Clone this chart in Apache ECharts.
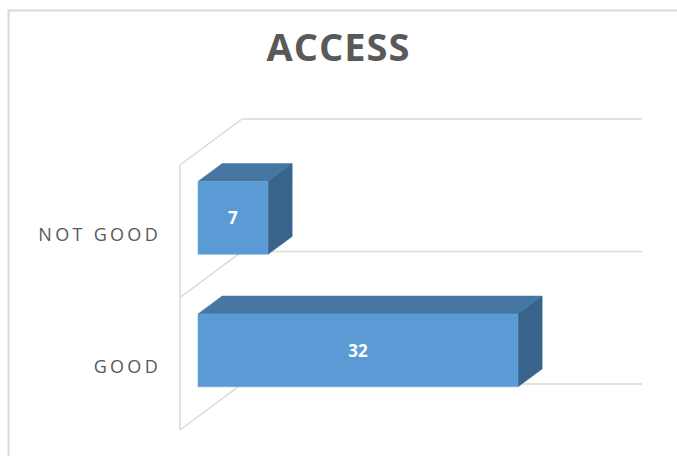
<!DOCTYPE html>
<html>
<head>
<meta charset="utf-8">
<style>
  html, body { margin: 0; padding: 0; background: #ffffff; }
  #chart { width: 677px; height: 456px; }
</style>
<script src="https://cdn.jsdelivr.net/npm/echarts@6/dist/echarts.min.js"></script>
</head>
<body>
<div id="chart"></div>
<script>
// Chart data
const titleText = 'ACCESS';
const categories = ['GOOD', 'NOT GOOD'];
const values = [32, 7];
const valueMin = 0;
const valueMax = 40;

// Oblique 3D projection: offset of the back wall relative to the front plane
const WALL_DX = 62, WALL_DY = -46;
// Depth span of the bars inside the box (fractions of the wall depth)
const BAR_FRONT = 0.29, BAR_BACK = 0.68;
const BAR_BAND = 0.55;

const GRID_LINE = '#d9d9d9';
const FACE_FRONT = '#5b9bd5';
const FACE_TOP = '#4677a3';
const FACE_SIDE = '#38648c';

const chart = echarts.init(document.getElementById('chart'), null, { renderer: 'svg' });

function renderWalls(params, api) {
  const cs = params.coordSys;
  const n = categories.length;
  const children = [];
  const style = { stroke: GRID_LINE, lineWidth: 1.5, fill: null };
  // front-left edge of the side wall
  children.push({ type: 'line', shape: { x1: cs.x, y1: cs.y, x2: cs.x, y2: cs.y + cs.height }, style });
  for (let i = 0; i <= n; i++) {
    const y = cs.y + cs.height * i / n;
    children.push({ type: 'line', shape: { x1: cs.x, y1: y, x2: cs.x + WALL_DX, y2: y + WALL_DY }, style });
    children.push({ type: 'line', shape: { x1: cs.x + WALL_DX, y1: y + WALL_DY, x2: cs.x + WALL_DX + cs.width, y2: y + WALL_DY }, style });
  }
  return { type: 'group', children };
}

function renderBar(params, api) {
  const v = api.value(0);
  const cat = api.value(1);
  const p0 = api.coord([valueMin, cat]);
  const p1 = api.coord([v, cat]);
  const band = api.size([0, 1])[1];
  const h = band * BAR_BAND;
  const fx = WALL_DX * BAR_FRONT, fy = WALL_DY * BAR_FRONT;
  const dx = WALL_DX * (BAR_BACK - BAR_FRONT), dy = WALL_DY * (BAR_BACK - BAR_FRONT);
  const x0 = p0[0] + fx, x1 = p1[0] + fx;
  const yT = p0[1] - h / 2 + fy, yB = yT + h;
  return {
    type: 'group',
    children: [
      { type: 'polygon', shape: { points: [[x0, yT], [x1, yT], [x1 + dx, yT + dy], [x0 + dx, yT + dy]] },
        style: { fill: FACE_TOP, stroke: FACE_TOP, lineWidth: 0.5 } },
      { type: 'polygon', shape: { points: [[x1, yT], [x1 + dx, yT + dy], [x1 + dx, yB + dy], [x1, yB]] },
        style: { fill: FACE_SIDE, stroke: FACE_SIDE, lineWidth: 0.5 } },
      { type: 'rect', shape: { x: x0, y: yT, width: x1 - x0, height: h },
        style: { fill: FACE_FRONT, stroke: '#6aa5da', lineWidth: 0.5 } },
      { type: 'text', x: (x0 + x1) / 2, y: (yT + yB) / 2,
        style: { text: String(v), fill: '#ffffff', font: 'bold 17px "Open Sans"', align: 'center', verticalAlign: 'middle' } }
    ]
  };
}

chart.setOption({
  animation: false,
  backgroundColor: '#ffffff',
  title: {
    text: titleText,
    left: 'center',
    top: 22,
    textStyle: { fontFamily: 'Open Sans', fontWeight: 'bold', fontSize: 38, color: '#595959' }
  },
  graphic: [{
    type: 'rect', left: 6, top: 8, z: -10,
    shape: { width: 700, height: 500 },
    style: { fill: null, stroke: GRID_LINE, lineWidth: 2 }
  }],
  grid: { left: 180, top: 165, width: 400, height: 265 },
  xAxis: {
    type: 'value', min: valueMin, max: valueMax,
    show: false
  },
  yAxis: {
    type: 'category', data: categories,
    axisLine: { show: false }, axisTick: { show: false }, splitLine: { show: false },
    axisLabel: { margin: 19, fontFamily: 'Open Sans', fontSize: 18, color: '#595959',
      verticalAlign: 'middle' }
  },
  series: [
    { type: 'custom', renderItem: renderWalls, data: [0], silent: true, z: 1,
      coordinateSystem: 'cartesian2d', encode: { x: [], y: [] } },
    { type: 'custom', renderItem: renderBar, z: 2,
      data: categories.map((c, i) => [values[i], i]), encode: { x: 0, y: 1 } }
  ]
});

// widen the category labels' letter spacing and drop them slightly
document.querySelectorAll('#chart svg text').forEach(t => {
  if (categories.includes(t.textContent)) {
    t.setAttribute('letter-spacing', '3.3px');
    t.setAttribute('dy', t.textContent === 'NOT GOOD' ? '3' : '2');
  }
  if (t.textContent === titleText) t.setAttribute('letter-spacing', '1px');
});
</script>
</body>
</html>
